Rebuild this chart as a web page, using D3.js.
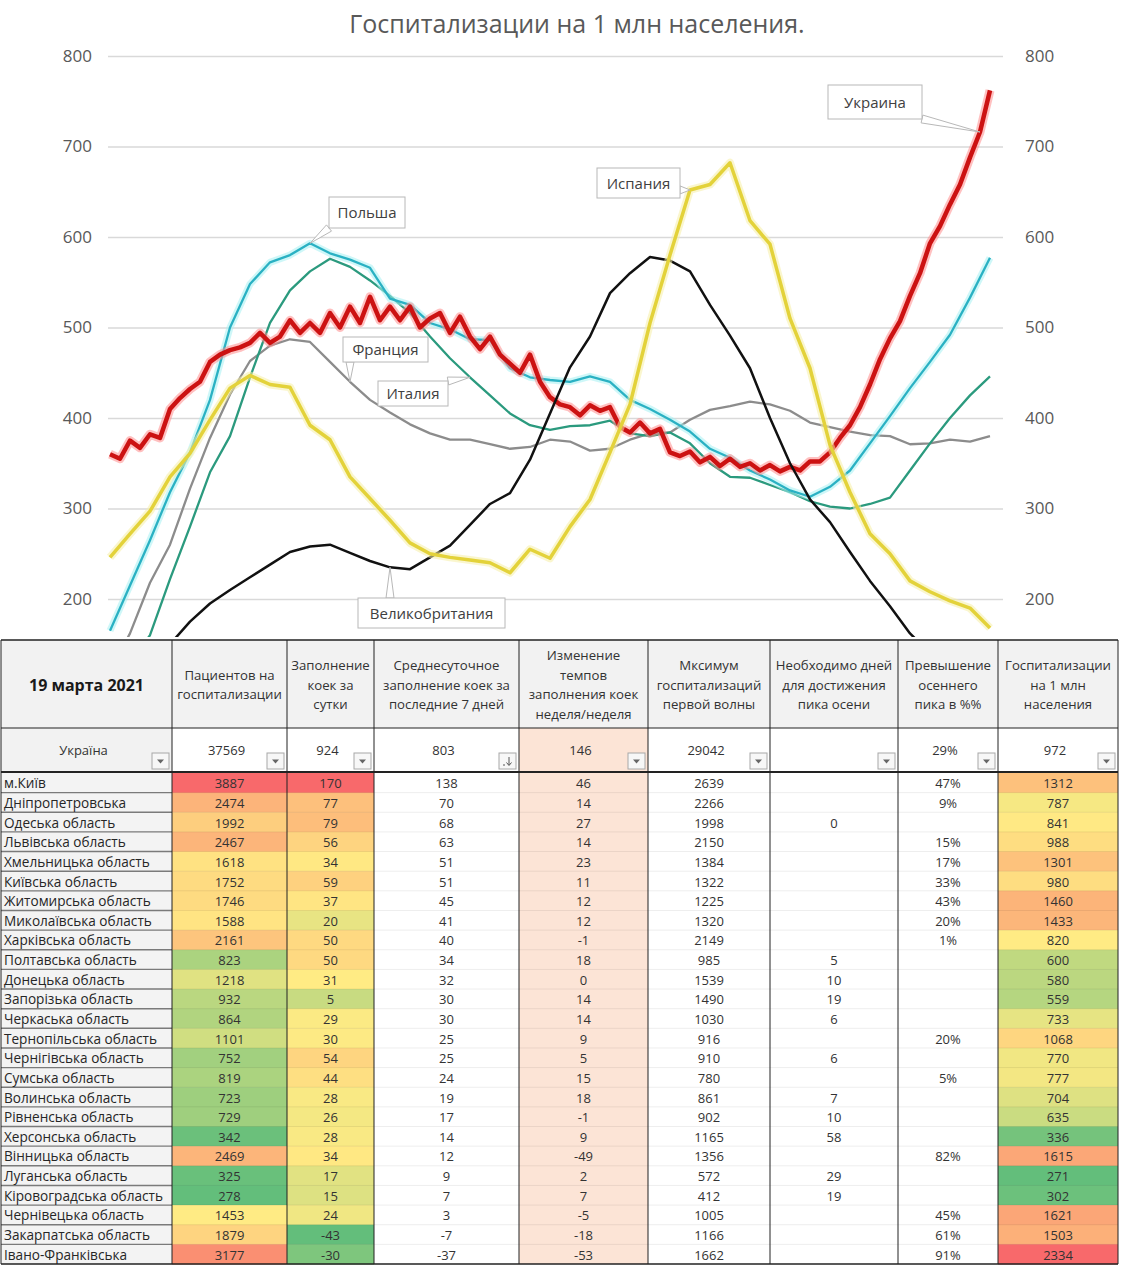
<!DOCTYPE html>
<html>
<head>
<meta charset="utf-8">
<script src="https://cdn.jsdelivr.net/npm/d3@7"></script>
<style>
  body { margin: 0; background: #fff; }
  text { font-family: "Open Sans", "Noto Sans", sans-serif; }
</style>
</head>
<body>
<svg id="canvas" width="1123" height="1274"></svg>
<script>
// ---------- chart data (values per 1 mln population) ----------
const yTicks = [200, 300, 400, 500, 600, 700, 800];

// Ukraine is read every half step, the others every full step
const ukraine = [360,355,375,367,382,378,410,422,432,440,462,470,475,478,483,494,483,490,508,494,
  505,494,516,500,523,505,534,508,523,508,523,500,510,516,494,512,490,476,490,470,
  460,450,470,440,423,415,412,403,414,408,412,390,384,395,383,388,362,358,363,351,
  357,347,355,346,350,342,348,341,346,342,352,352,362,378,392,412,437,465,488,507,
  535,560,593,612,636,658,688,716,762];
const poland = [165,215,265,318,362,420,500,548,572,580,593,582,575,566,532,525,505,498,487,486,
  455,445,442,440,446,440,420,410,398,385,366,356,342,332,320,313,324,342,372,402,
  433,462,492,533,577];
const italy = [110,130,160,222,280,340,380,445,505,541,562,576,567,552,535,516,490,466,445,425,
  405,392,387,391,392,397,383,380,384,372,350,335,334,326,318,308,302,300,305,312,
  342,372,400,425,446];
const france = [120,162,218,260,322,378,426,463,480,487,484,462,440,420,406,393,383,376,376,371,
  366,368,376,374,364,366,376,383,384,398,409,413,418,415,408,395,390,385,381,380,
  371,372,376,374,380];
const spain = [246,272,297,335,361,398,433,447,437,434,392,376,335,311,287,262,250,246,243,240,
  229,255,245,280,310,362,415,505,580,652,658,682,618,592,510,455,370,318,272,250,
  220,208,198,190,168];
const britain = [100,120,140,150,175,195,210,224,238,252,258,260,251,242,235,233,246,259,282,305,
  317,354,405,456,490,538,560,578,574,562,525,491,455,400,350,310,285,252,220,192,
  162,140,120,100,85];

// ---------- table data ----------
const tableDate = "19 марта 2021";
const headers = [
  [],
  ["Пациентов на", "госпитализации"],
  ["Заполнение", "коек за", "сутки"],
  ["Среднесуточное", "заполнение коек за", "последние 7 дней"],
  ["Изменение", "темпов", "заполнения коек", "неделя/неделя"],
  ["Мксимум", "госпитализаций", "первой волны"],
  ["Необходимо дней", "для достижения", "пика осени"],
  ["Превышение", "осеннего", "пика в %%"],
  ["Госпитализации", "на 1 млн", "населения"]
];
const totals = ["Україна", "37569", "924", "803", "146", "29042", "", "29%", "972"];
const regions = ["м.Київ","Дніпропетровська","Одеська область","Львівська область","Хмельницька область",
  "Київська область","Житомирська область","Миколаївська область","Харківська область","Полтавська область",
  "Донецька область","Запорізька область","Черкаська область","Тернопільська область","Чернігівська область",
  "Сумська область","Волинська область","Рівненська область","Херсонська область","Вінницька область",
  "Луганська область","Кіровоградська область","Чернівецька область","Закарпатська область","Івано-Франківська"];
const patients = [3887,2474,1992,2467,1618,1752,1746,1588,2161,823,1218,932,864,1101,752,819,723,729,342,2469,325,278,1453,1879,3177];
const bedsDay = [170,77,79,56,34,59,37,20,50,50,31,5,29,30,54,44,28,26,28,34,17,15,24,-43,-30];
const avg7 = [138,70,68,63,51,51,45,41,40,34,32,30,30,25,25,24,19,17,14,12,9,7,3,-7,-37];
const weekChange = [46,14,27,14,23,11,12,12,-1,18,0,14,14,9,5,15,18,-1,9,-49,2,7,-5,-18,-53];
const firstWaveMax = [2639,2266,1998,2150,1384,1322,1225,1320,2149,985,1539,1490,1030,916,910,780,861,902,1165,1356,572,412,1005,1166,1662];
const daysToPeak = [null,null,0,null,null,null,null,null,null,5,10,19,6,null,6,null,7,10,58,null,29,19,null,null,null];
const excessPct = [47,9,null,15,17,33,43,20,1,null,null,null,null,20,null,5,null,null,null,82,null,null,45,61,91];
const perMln = [1312,787,841,988,1301,980,1460,1433,820,600,580,559,733,1068,770,777,704,635,336,1615,271,302,1621,1503,2334];

// ---------- chart ----------
const svg = d3.select("#canvas");
const x = d3.scaleLinear().domain([0, 88]).range([110, 990]);
const y = d3.scaleLinear().domain([200, 800]).range([599, 56]);

svg.append("defs").append("clipPath").attr("id", "clip")
  .append("rect").attr("x", 0).attr("y", 0).attr("width", 1123).attr("height", 637);

svg.append("text").attr("x", 577).attr("y", 33).attr("text-anchor", "middle")
  .attr("font-size", 25).attr("fill", "#595959").text("Госпитализации на 1 млн населения.");

// grid
const grid = svg.append("g").attr("transform", "translate(1003,0)")
  .call(d3.axisLeft(y).tickValues(yTicks).tickSize(895).tickFormat(""));
grid.select(".domain").remove();
grid.selectAll("line").attr("stroke", "#d9d9d9").attr("stroke-width", 1.3);

const leftAxis = svg.append("g").attr("transform", "translate(108,0)")
  .call(d3.axisLeft(y).tickValues(yTicks).tickSize(0).tickPadding(16));
const rightAxis = svg.append("g").attr("transform", "translate(1003,0)")
  .call(d3.axisRight(y).tickValues(yTicks).tickSize(0).tickPadding(22));
[leftAxis, rightAxis].forEach(a => {
  a.select(".domain").remove();
  a.selectAll("text").attr("font-size", 17).attr("fill", "#595959")
    .attr("font-family", "'Open Sans', 'Noto Sans', sans-serif");
});

const seriesList = [
  { name: "Франция", values: france, color: "#8c8c8c", width: 2.3 },
  { name: "Италия", values: italy, color: "#2b9a7e", width: 2.3 },
  { name: "Польша", values: poland, color: "#2ab1c3", width: 2.3, glow: "#a6f0f3", glowWidth: 7 },
  { name: "Украина", values: ukraine, color: "#cc1212", width: 4.5, glow: "#ff8c8c", glowWidth: 9 },
  { name: "Великобритания", values: britain, color: "#111111", width: 2.5 },
  { name: "Испания", values: spain, color: "#e3d23a", width: 3.5, glow: "#f5efa6", glowWidth: 8 }
];

const plot = svg.append("g").attr("clip-path", "url(#clip)");
seriesList.forEach(s => {
  const step = 88 / (s.values.length - 1);
  const line = d3.line().x((d, i) => x(i * step)).y(d => y(d));
  if (s.glow) {
    plot.append("path").attr("d", line(s.values)).attr("fill", "none")
      .attr("stroke", s.glow).attr("stroke-width", s.glowWidth).attr("opacity", 0.55)
      .attr("stroke-linejoin", "round");
  }
  plot.append("path").attr("d", line(s.values)).attr("fill", "none")
    .attr("stroke", s.color).attr("stroke-width", s.width).attr("stroke-linejoin", "round");
});

// callouts: box + wedge pointing to a point of its series
const callouts = [
  { name: "Украина", values: ukraine, index: 87, box: [828, 85, 94, 34] },
  { name: "Испания", values: spain, index: 29, box: [597, 168, 83, 30] },
  { name: "Польша", values: poland, index: 10, box: [329, 197, 76, 31] },
  { name: "Франция", values: france, index: 12, box: [343, 337, 85, 25] },
  { name: "Италия", values: italy, index: 18, box: [378, 381, 70, 25] },
  { name: "Великобритания", values: britain, index: 14, box: [358, 598, 147, 30] }
];
callouts.forEach(c => {
  const step = 88 / (c.values.length - 1);
  const tx = x(c.index * step), ty = y(c.values[c.index]);
  const [bx, by, bw, bh] = c.box;
  const ax = Math.max(bx, Math.min(bx + bw, tx));
  const ay = Math.max(by, Math.min(by + bh, ty));
  const dx = tx - ax, dy = ty - ay, len = Math.hypot(dx, dy) || 1;
  const px = -dy / len * 4, py = dx / len * 4;
  const g = svg.append("g");
  g.append("path")
    .attr("d", `M${ax + px},${ay + py}L${tx},${ty}L${ax - px},${ay - py}Z`)
    .attr("fill", "#fff").attr("stroke", "#b8b8b8").attr("stroke-width", 1);
  g.append("rect").attr("x", bx).attr("y", by).attr("width", bw).attr("height", bh)
    .attr("fill", "#fff").attr("stroke", "#b8b8b8").attr("stroke-width", 1);
  g.append("text").attr("x", bx + bw / 2).attr("y", by + bh / 2 + 5.5)
    .attr("text-anchor", "middle").attr("font-size", 15).attr("fill", "#404040").text(c.name);
});

// ---------- table ----------
const cols = [1, 172, 287, 374, 519, 648, 770, 898, 998, 1118];
const tTop = 640, hBottom = 728, uBottom = 772, rowH = 19.64;
const rowTop = i => uBottom + 1 + i * rowH;
const tBottom = rowTop(regions.length);
const tbl = svg.append("g");

const heat = vals => {
  const sorted = vals.slice().sort(d3.ascending);
  return d3.scaleLinear()
    .domain([d3.min(vals), d3.quantile(sorted, 0.5), d3.max(vals)])
    .range(["#63be7b", "#ffeb84", "#f8696b"]);
};
const heatCols = { 1: heat(patients), 2: heat(bedsDay), 8: heat(perMln) };

// header
tbl.append("rect").attr("x", cols[0]).attr("y", tTop).attr("width", cols[9] - cols[0])
  .attr("height", hBottom - tTop).attr("fill", "#f2f2f2");
tbl.append("text").attr("x", (cols[0] + cols[1]) / 2).attr("y", 691).attr("text-anchor", "middle")
  .attr("font-size", 16).attr("font-weight", "bold").attr("fill", "#1a1a1a").text(tableDate);
headers.forEach((lines, c) => {
  if (!lines.length) return;
  const cx = (cols[c] + cols[c + 1]) / 2;
  const start = 685 - (lines.length - 1) * 19.5 / 2 + 4.5;
  lines.forEach((t, k) => {
    tbl.append("text").attr("x", cx).attr("y", start + k * 19.5).attr("text-anchor", "middle")
      .attr("font-size", 13.2).attr("fill", "#333").text(t);
  });
});

// totals row backgrounds
tbl.append("rect").attr("x", cols[0]).attr("y", hBottom).attr("width", cols[1] - cols[0])
  .attr("height", uBottom - hBottom).attr("fill", "#f2f2f2");
tbl.append("rect").attr("x", cols[4]).attr("y", hBottom).attr("width", cols[5] - cols[4])
  .attr("height", tBottom - hBottom).attr("fill", "#fce4d6");

// data rows
const columnsData = [regions, patients, bedsDay, avg7, weekChange, firstWaveMax, daysToPeak, excessPct, perMln];
regions.forEach((r, i) => {
  const top = rowTop(i);
  tbl.append("rect").attr("x", cols[0]).attr("y", top).attr("width", cols[1] - cols[0])
    .attr("height", rowH).attr("fill", "#f3f3f3");
  Object.keys(heatCols).forEach(c => {
    tbl.append("rect").attr("x", cols[c]).attr("y", top).attr("width", cols[+c + 1] - cols[c])
      .attr("height", rowH + 0.5).attr("fill", heatCols[c](columnsData[c][i]));
  });
});

// row separators
regions.forEach((r, i) => {
  if (i === 0) return;
  const yy = rowTop(i);
  tbl.append("line").attr("x1", cols[1]).attr("x2", cols[9]).attr("y1", yy).attr("y2", yy)
    .attr("stroke", "#000").attr("stroke-opacity", 0.07);
  tbl.append("line").attr("x1", cols[0]).attr("x2", cols[1]).attr("y1", yy).attr("y2", yy)
    .attr("stroke", "#7a7a7a").attr("stroke-width", 1.4);
});

// row texts
regions.forEach((r, i) => {
  const base = rowTop(i) + rowH / 2 + 5.5;
  tbl.append("text").attr("x", cols[0] + 3).attr("y", base).attr("font-size", 13.6)
    .attr("fill", "#262626").text(r);
  for (let c = 1; c < columnsData.length; c++) {
    const v = columnsData[c][i];
    if (v === null) continue;
    tbl.append("text").attr("x", (cols[c] + cols[c + 1]) / 2).attr("y", base)
      .attr("text-anchor", "middle").attr("font-size", 13).attr("fill", "#333")
      .text(c === 7 ? v + "%" : v);
  }
});

// totals row text + filter buttons
totals.forEach((t, c) => {
  const cx = (cols[c] + cols[c + 1]) / 2;
  tbl.append("text").attr("x", cx - 3).attr("y", 755).attr("text-anchor", "middle")
    .attr("font-size", 13).attr("fill", "#333").text(t);
  const bx = cols[c + 1] - 20, by = 753;
  tbl.append("rect").attr("x", bx).attr("y", by).attr("width", 17).attr("height", 16)
    .attr("fill", "#f7f7f7").attr("stroke", "#a8a8a8");
  if (c === 3) {
    tbl.append("path").attr("d", `M${bx + 10},${by + 4}V${by + 12}M${bx + 7.5},${by + 9.5}L${bx + 10},${by + 12.5}L${bx + 12.5},${by + 9.5}M${bx + 4},${by + 12}H${bx + 6}`)
      .attr("stroke", "#555").attr("fill", "none").attr("stroke-width", 1);
  } else {
    tbl.append("path").attr("d", `M${bx + 5},${by + 6.5}L${bx + 12},${by + 6.5}L${bx + 8.5},${by + 10.5}Z`)
      .attr("fill", "#666");
  }
});

// borders
cols.forEach(cx => {
  tbl.append("line").attr("x1", cx).attr("x2", cx).attr("y1", tTop).attr("y2", tBottom)
    .attr("stroke", "#222").attr("stroke-width", 1);
});
[[tTop, 1.5], [hBottom, 1], [uBottom, 2.2], [tBottom, 1.5]].forEach(([yy, w]) => {
  tbl.append("line").attr("x1", cols[0]).attr("x2", cols[9]).attr("y1", yy).attr("y2", yy)
    .attr("stroke", "#222").attr("stroke-width", w);
});
</script>
</body>
</html>
